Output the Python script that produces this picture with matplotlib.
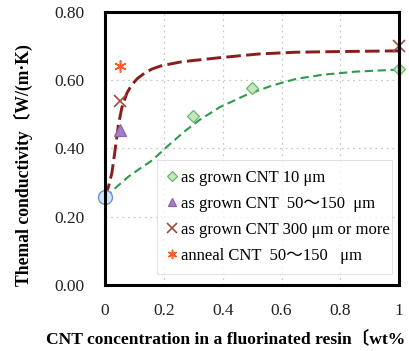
import matplotlib
matplotlib.use("Agg")
import matplotlib.pyplot as plt

# ---- data ----
x_grown10 = [0.3, 0.5, 1.0]
y_grown10 = [0.494, 0.577, 0.633]
x_grown50 = [0.05]
y_grown50 = [0.455]
x_grown300 = [0.05, 1.0]
y_grown300 = [0.538, 0.699]
x_anneal = [0.05]
y_anneal = [0.643]
x_base = [0.0]
y_base = [0.258]

# trend curves
x_trend_green = [0.0, 0.04, 0.08, 0.12, 0.16, 0.21, 0.27, 0.32, 0.39, 0.48, 0.57, 0.65, 0.74, 0.85, 0.97, 1.0]
y_trend_green = [0.256, 0.288, 0.318, 0.342, 0.365, 0.405, 0.450, 0.483, 0.521, 0.557, 0.585, 0.604, 0.616, 0.625, 0.630, 0.631]
x_trend_red = [0.0, 0.012, 0.023, 0.034, 0.045, 0.057, 0.074, 0.09, 0.11, 0.136, 0.16, 0.19, 0.26, 0.39, 0.525, 0.65, 0.8, 1.0]
y_trend_red = [0.256, 0.29, 0.328, 0.396, 0.468, 0.520, 0.562, 0.586, 0.605, 0.622, 0.633, 0.642, 0.654, 0.666, 0.677, 0.682, 0.684, 0.686]

xticks = [0, 0.2, 0.4, 0.6, 0.8, 1]
xtick_labels = ["0", "0.2", "0.4", "0.6", "0.8", "1"]
yticks = [0.0, 0.2, 0.4, 0.6, 0.8]
ytick_labels = ["0.00", "0.20", "0.40", "0.60", "0.80"]

labels = ["as grown CNT 10 μm",
          "as grown CNT  50～150  μm",
          "as grown CNT 300 μm or more",
          "anneal CNT  50～150   μm"]
xlabel = "CNT concentration in a fluorinated resin〔wt%"
ylabel = "Themal conductivity〔W/(m·K)"

fam = ["Liberation Serif", "Noto Sans CJK JP"]
plt.rcParams["font.family"] = fam

fig = plt.figure(figsize=(4.09, 3.51), dpi=100)
ax = fig.add_axes([0.257, 0.188, 0.719, 0.778])
ax.set_xlim(0, 1)
ax.set_ylim(0, 0.8)

ax.grid(True, color="#c8c8c8", linestyle=(0, (1.5, 3)), linewidth=0.9)
ax.set_axisbelow(True)

ax.plot(x_trend_green, y_trend_green, color="#2e9a4c", linewidth=1.5,
        dashes=(4, 2.2), zorder=3)
ax.plot(x_trend_red, y_trend_red, color="#8b1c1c", linewidth=2.1,
        dashes=(5, 1.8), zorder=3)

h1, = ax.plot(x_grown10, y_grown10, linestyle="none", marker="D", ms=6.5,
              mfc="#c6e6bf", mec="#6cb86a", mew=0.9, zorder=4, clip_on=False)
h2, = ax.plot(x_grown50, y_grown50, linestyle="none", marker="^", ms=8,
              mfc="#a57fc4", mec="#8a63ad", mew=0.9, zorder=4)
h3, = ax.plot(x_grown300, y_grown300, linestyle="none", marker="x", ms=9,
              mec="#a44a3a", mew=1.2, zorder=4, clip_on=False)
h4, = ax.plot(x_anneal, y_anneal, linestyle="none", marker=(6, 2, 0), ms=9,
              mec="#ff5a2a", mew=1.1, zorder=4)
ax.plot(x_base, y_base, linestyle="none", marker="o", ms=10,
        mfc="#d3e8f8", mec="#6f92d4", mew=1.0, zorder=5, clip_on=False)

ax.set_xticks(xticks)
ax.set_xticklabels(xtick_labels)
ax.set_yticks(yticks)
ax.set_yticklabels(ytick_labels)
ax.tick_params(length=0, labelsize=12.5, colors="#222222")
ax.tick_params(axis="x", pad=13)
ax.tick_params(axis="y", pad=15)
for sp in ax.spines.values():
    sp.set_linewidth(2.2)
    sp.set_color("black")
    sp.set_zorder(6)

leg = ax.legend([h1, h2, h3, h4], labels, loc="upper left",
                bbox_to_anchor=(0.177, 0.0, 0.80, 0.458), mode="expand",
                borderaxespad=0, frameon=True, fancybox=False,
                handlelength=0.6, handletextpad=0.25, labelspacing=0.6,
                borderpad=0.6, markerscale=0.75,
                prop={"family": fam, "size": 12})
leg.get_frame().set_edgecolor("#dddddd")
leg.get_frame().set_linewidth(0.8)
leg.set_zorder(7)

fig.text(46 / 409, 1 - 339 / 351, xlabel, ha="left", va="center",
         fontsize=12.6, fontweight="bold", family=fam)
fig.text(23.5 / 409, 1 - 165 / 351, ylabel, ha="center", va="center",
         rotation=90, fontsize=12.7, fontweight="bold", family=fam)

fig.savefig("out.png", dpi=100)
